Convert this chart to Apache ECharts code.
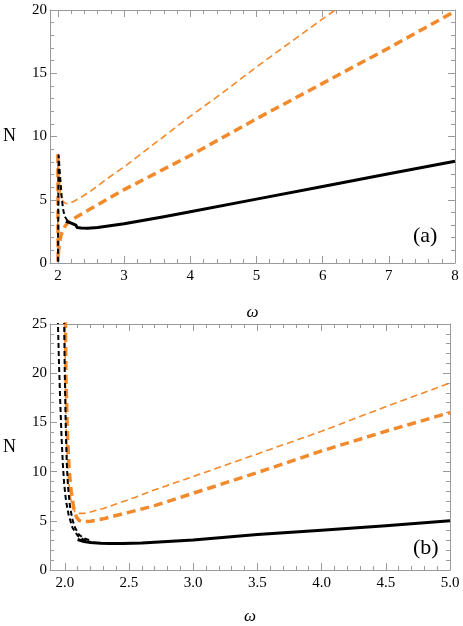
<!DOCTYPE html>
<html>
<head>
<meta charset="utf-8">
<script src="https://cdn.jsdelivr.net/npm/echarts@6/dist/echarts.min.js"></script>
<style>
body{margin:0;background:#fff;}
#chart{width:463px;height:626px;}
</style>
</head>
<body>
<div id="chart"></div>
<script>
// panel (a) curves, [omega, N]
const aOrangeThin = [[1.998,2.0],[2.0,8.7],[2.01,7.6],[2.02,6.5],[2.035,5.6],[2.05,5.15],[2.08,4.85],[2.12,4.7],[2.18,4.72],[2.25,4.9],[2.35,5.2],[2.5,5.7],[2.7,6.5],[3.0,7.6],[3.3,8.8],[3.6,10.0],[4.0,11.6],[4.5,13.5],[5.0,15.5],[5.5,17.4],[6.0,19.3],[6.3,20.4]];
const aOrangeThick = [[2.0,8.6],[2.002,0.2],[2.01,0.9],[2.02,1.4],[2.035,1.9],[2.05,2.25],[2.075,2.6],[2.1,2.85],[2.15,3.2],[2.2,3.4],[2.3,3.7],[2.5,4.3],[3.0,5.8],[4.0,8.5],[5.0,11.4],[6.0,14.2],[7.0,17.0],[8.0,19.9]];
const aBlackSolid = [[2.12,3.3],[2.2,3.15],[2.27,3.0],[2.29,2.8],[2.35,2.76],[2.45,2.75],[2.6,2.8],[3.0,3.1],[3.6,3.65],[4.0,4.05],[5.0,5.05],[6.0,6.05],[7.0,7.05],[8.0,8.05]];
const aBlackDash = [[2.0,0.1],[2.01,8.5],[2.02,7.8],[2.03,7.0],[2.045,6.0],[2.06,5.0],[2.08,4.2],[2.1,3.7],[2.15,3.3],[2.2,3.15]];

// panel (b) curves
const bOrangeThin = [[2.0,25.5],[2.005,20],[2.01,15],[2.02,11],[2.03,9],[2.045,7.3],[2.06,6.4],[2.08,5.9],[2.1,5.75],[2.15,5.75],[2.2,5.9],[2.3,6.25],[2.4,6.7],[2.55,7.4],[2.69,8.1],[3.0,9.5],[3.5,11.8],[4.0,14.1],[4.5,16.6],[5.0,19.0]];
const bOrangeThick = [[2.005,25.5],[2.01,19],[2.02,14],[2.035,10],[2.05,8],[2.07,6.3],[2.09,5.4],[2.11,5.05],[2.14,4.9],[2.2,4.95],[2.3,5.2],[2.45,5.7],[2.69,6.5],[3.0,7.8],[3.5,9.9],[4.0,12.1],[4.5,14.1],[5.0,16.0]];
const bBlackSolid = [[2.1,3.1],[2.15,2.9],[2.2,2.8],[2.28,2.72],[2.35,2.7],[2.45,2.7],[2.6,2.75],[3.0,3.05],[3.5,3.6],[4.0,4.05],[4.5,4.5],[5.0,5.0]];
const bBlackDash1 = [[1.946,25.5],[1.955,21],[1.965,17],[1.975,13.5],[1.985,10.8],[1.995,8.8],[2.01,7],[2.03,5.6],[2.06,4.3],[2.1,3.5],[2.15,3.05],[2.2,2.85]];
const bBlackDash2 = [[1.995,25.5],[2.0,20],[2.007,15],[2.015,11],[2.025,8.5],[2.04,6.5],[2.06,5.1],[2.08,4.3],[2.11,3.6],[2.15,3.2],[2.2,3.0]];

// tick positions
const aMajorTicks = [2, 3, 4, 5, 6, 7, 8];
const bMajorTicks = [2.0, 2.5, 3.0, 3.5, 4.0, 4.5, 5.0];

const serif = 'Times New Roman, Liberation Serif, serif';
const frame = '#9a9a9a';
const orange = '#f28a2c';

function minorOf(major, parts) {
  const out = [];
  for (let i = 0; i < major.length - 1; i++) {
    const step = (major[i + 1] - major[i]) / parts;
    for (let k = 1; k < parts; k++) out.push(+(major[i] + k * step).toFixed(4));
  }
  return out;
}

function xAxes(grid, min, max, major, isA) {
  const minor = minorOf(major, 5);
  const base = {gridIndex: grid, type: 'value', min: min, max: max, splitLine: {show: false}};
  return [
    Object.assign({}, base, {
      position: 'bottom',
      name: 'ω', nameLocation: 'middle', nameGap: isA ? 41 : 38,
      nameTextStyle: {fontFamily: serif, fontSize: 17, fontStyle: 'italic', color: '#000'},
      axisLine: {lineStyle: {color: frame}},
      axisTick: {inside: true, length: 7, customValues: major, lineStyle: {color: frame}},
      axisLabel: {margin: 6, fontFamily: serif, fontSize: 15, color: '#000', customValues: major,
        formatter: function (v) { return isA ? String(Math.round(v)) : v.toFixed(1); }}
    }),
    Object.assign({}, base, {
      position: 'bottom',
      axisLine: {show: false}, axisLabel: {show: false},
      axisTick: {inside: true, length: 4, customValues: minor, lineStyle: {color: frame}}
    }),
    Object.assign({}, base, {
      position: 'top',
      axisLine: {lineStyle: {color: frame}}, axisLabel: {show: false},
      axisTick: {inside: true, length: 7, customValues: major, lineStyle: {color: frame}}
    }),
    Object.assign({}, base, {
      position: 'top',
      axisLine: {show: false}, axisLabel: {show: false},
      axisTick: {inside: true, length: 4, customValues: minor, lineStyle: {color: frame}}
    })
  ];
}

function yAxes(grid, max) {
  const base = {gridIndex: grid, type: 'value', min: 0, max: max, interval: 5, splitLine: {show: false},
    axisLine: {show: true, lineStyle: {color: frame}},
    axisTick: {inside: true, length: 7, lineStyle: {color: frame}},
    minorTick: {show: true, splitNumber: 5, length: 4, lineStyle: {color: frame}}};
  return [
    Object.assign({}, base, {
      position: 'left',
      name: 'N', nameLocation: 'middle', nameGap: 34, nameRotate: 0,
      nameTextStyle: {fontFamily: serif, fontSize: 18, color: '#000'},
      axisLabel: {margin: 3, fontFamily: serif, fontSize: 15, color: '#000'}
    }),
    Object.assign({}, base, {position: 'right', axisLabel: {show: false}})
  ];
}

function line(data, xi, yi, color, width, dash) {
  return {
    type: 'line', data: data, xAxisIndex: xi, yAxisIndex: yi,
    showSymbol: false, smooth: false, silent: true,
    lineStyle: {color: color, width: width, type: dash || 'solid', cap: 'butt', join: 'round'}
  };
}

const chart = echarts.init(document.getElementById('chart'));
chart.setOption({
  animation: false,
  textStyle: {fontFamily: serif},
  grid: [
    {left: 45, top: 10, right: 8, height: 253},
    {left: 45, top: 324, right: 13, height: 250}
  ],
  xAxis: xAxes(0, 1.88, 8, aMajorTicks, true).concat(xAxes(1, 1.885, 5, bMajorTicks, false)),
  yAxis: yAxes(0, 20).concat(yAxes(1, 25)),
  graphic: [
    {type: 'text', left: 413, top: 225, style: {text: '(a)', font: '22px Times New Roman, Liberation Serif, serif', fill: '#000'}},
    {type: 'text', left: 413, top: 537, style: {text: '(b)', font: '22px Times New Roman, Liberation Serif, serif', fill: '#000'}}
  ],
  series: [
    line(aOrangeThick, 0, 0, orange, 3.5, [9, 5]),
    line(aOrangeThin, 0, 0, orange, 1.6, [7, 4]),
    line(aBlackSolid, 0, 0, '#000', 3),
    line(aBlackDash, 0, 0, '#000', 2, [5, 3]),
    line(bOrangeThick, 4, 2, orange, 3.5, [9, 5]),
    line(bOrangeThin, 4, 2, orange, 1.6, [7, 4]),
    line(bBlackSolid, 4, 2, '#000', 3),
    line(bBlackDash1, 4, 2, '#000', 2, [5, 3]),
    line(bBlackDash2, 4, 2, '#000', 2, [5, 3])
  ]
});
</script>
</body>
</html>
